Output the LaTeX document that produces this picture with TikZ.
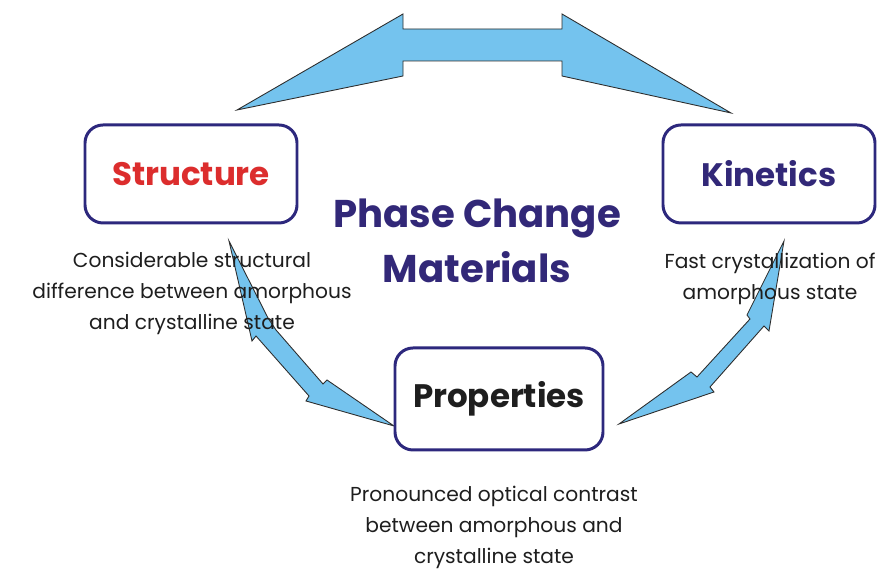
\documentclass[tikz,border=0pt]{standalone}
\usepackage{fontspec}
\setmainfont{Poppins}
\definecolor{arrowfill}{RGB}{116,195,238}
\definecolor{arrowline}{RGB}{45,45,45}
\definecolor{boxline}{RGB}{45,40,125}
\definecolor{structred}{RGB}{220,45,45}
\definecolor{navy}{RGB}{50,40,120}
\definecolor{inkc}{RGB}{30,30,30}

\begin{document}
\begin{tikzpicture}[x=1cm,y=1cm,line join=miter]
\tikzset{blockarrow/.style={fill=arrowfill,draw=arrowline,line width=0.5pt},
  topicbox/.style={draw=boxline,line width=1.7pt,rounded corners=0.36cm,fill=white,minimum width=4.24cm,minimum height=1.96cm,font=\fontsize{18.5}{22}\selectfont\bfseries},
  note/.style={align=center,text=inkc,font=\fontsize{11.5}{17.6}\selectfont},
  bigtitle/.style={align=center,text=navy,font=\fontsize{22}{31.3}\selectfont\bfseries}}
\useasboundingbox (0,0) rectangle (17.8,11.38);

% top double arrow between Structure and Kinetics
\draw[blockarrow] (4.74,9.18)--(8.06,11.10)--(8.06,10.80)--(11.24,10.80)--(11.24,11.10)--(14.62,9.12)
  --(11.24,9.86)--(11.24,10.16)--(8.06,10.16)--(8.06,9.86)--cycle;
% left double arrow, Structure <-> Properties
\draw[blockarrow] (4.58,6.56)--(5.36,5.02)--(5.52,4.78)--(6.46,3.70)--(6.54,3.78)--(7.88,2.86)
  --(6.12,3.36)--(6.18,3.46)--(5.12,4.66)--(5.04,4.56)--cycle;
% right double arrow, Kinetics <-> Properties
\draw[blockarrow] (15.68,6.56)--(15.38,4.76)--(15.28,4.86)--(14.20,3.64)--(14.28,3.54)--(12.38,2.90)
  --(13.82,3.94)--(13.94,3.84)--(15.00,5.00)--(14.94,5.08)--cycle;

\node[topicbox,text=structred] (structure) at (3.82,7.90) {Structure};
\node[topicbox,text=navy] (kinetics) at (15.38,7.90) {Kinetics};
\node[topicbox,text=inkc,minimum width=4.16cm,minimum height=2.04cm] (properties) at (9.98,3.40) {Properties};

\node[bigtitle] (pcm) at (9.54,6.57) {Phase Change\\Materials};

\node[note] (structnote) at (3.84,5.52) {Considerable structural\\difference between amorphous\\and crystalline state};
\node[note] (kinnote) at (15.40,5.80) {Fast crystallization of\\amorphous state};
\node[note] (propnote) at (9.88,0.84) {Pronounced optical contrast\\between amorphous and\\crystalline state};
\end{tikzpicture}
\end{document}
